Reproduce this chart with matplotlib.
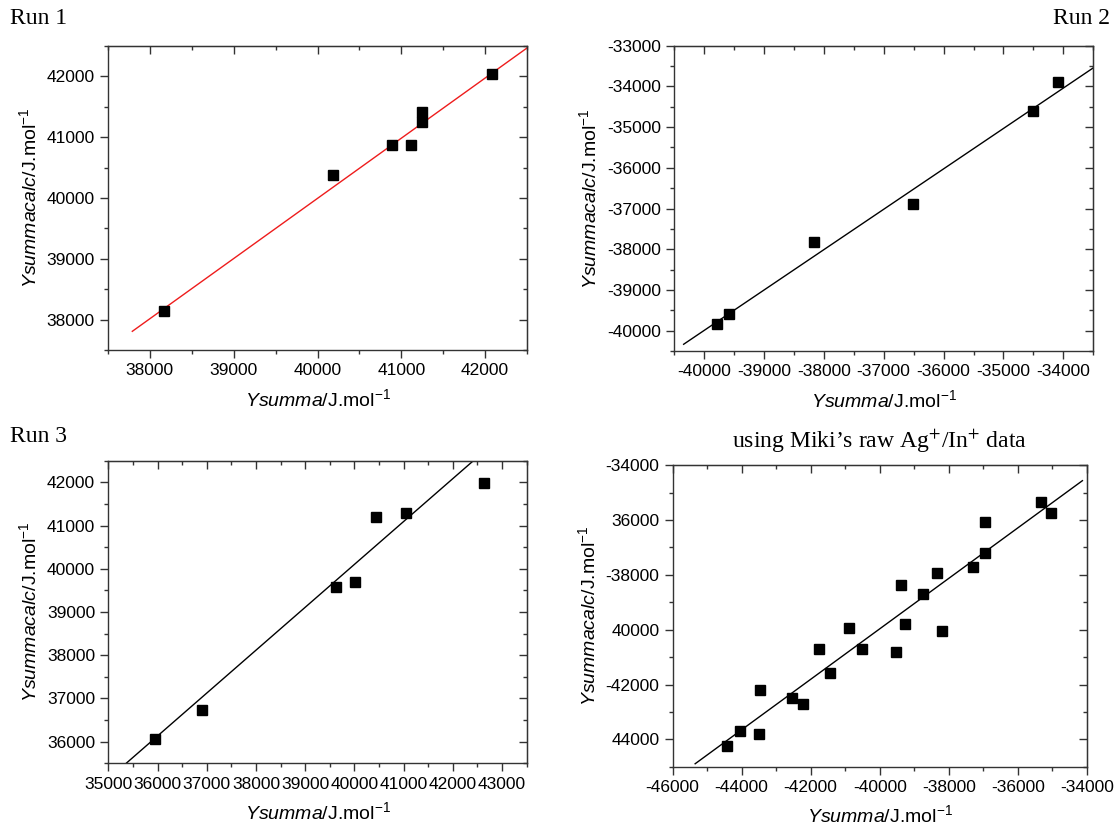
import matplotlib
matplotlib.use("Agg")
import matplotlib.pyplot as plt
from matplotlib.ticker import MultipleLocator, FixedLocator, FixedFormatter

plt.rcParams['font.family'] = ['Liberation Sans', 'DejaVu Sans']
plt.rcParams['axes.unicode_minus'] = False
plt.rcParams['mathtext.fontset'] = 'custom'
plt.rcParams['mathtext.rm'] = 'Liberation Sans'
plt.rcParams['mathtext.it'] = 'Liberation Sans:italic'

# ---------------- data ----------------
run1_x = [38170, 40180, 40890, 41120, 41245, 41245, 42085]
run1_y = [38138, 40371, 40877, 40871, 41422, 41246, 42033]
fit1_x = [37790, 42500]
fit1_y = [37807, 42467]

run2_x = [-39774, -39590, -38163, -36510, -34511, -34083]
run2_y = [-39827, -39580, -37812, -36899, -34612, -33897]
fit2_x = [-40339, -33500]
fit2_y = [-40335, -33543]

run3_x = [35941, 36896, 39631, 40014, 40441, 41042, 42634]
run3_y = [36068, 36725, 39586, 39686, 41205, 41282, 41976]
fit3_x = [35362, 42417]
fit3_y = [35500, 42500]

miki_x = [-44428, -44055, -43486, -43455, -42555, -42214, -41748, -41448,
          -40890, -40507, -39524, -39369, -39276, -38749, -38325, -38200,
          -37300, -36949, -36949, -35314, -35035]
miki_y = [-44244, -43694, -43817, -42203, -42509, -42729, -40711, -41592,
          -39929, -40699, -40809, -38352, -39782, -38707, -37936, -40051,
          -37716, -37203, -36054, -35357, -35724]
fit4_x = [-45348, -34125]
fit4_y = [-44892, -34562]

miki_yticks = [-34000, -36000, -38000, -40000, -42000, -44000]
miki_yticklabels = ["-34000", "36000", "-38000", "40000", "-42000", "44000"]

xlabel = r"$\mathit{Ysumma/}$J.mol$^{-1}$"
ylabel = r"$\mathit{Ysummacalc/}$J.mol$^{-1}$"

fig = plt.figure(figsize=(11.17, 8.27), dpi=100)

def style(ax, xlim, ylim, xmaj, xmin, ymaj, ymin):
    ax.set_xlim(*xlim)
    ax.set_ylim(*ylim)
    ax.xaxis.set_major_locator(MultipleLocator(xmaj))
    ax.xaxis.set_minor_locator(MultipleLocator(xmin))
    ax.yaxis.set_major_locator(MultipleLocator(ymaj))
    ax.yaxis.set_minor_locator(MultipleLocator(ymin))
    for s in ax.spines.values():
        s.set_linewidth(1.0)
        s.set_color('#333333')
    ax.tick_params(which='both', labelsize=12.5, width=1.0, color='#333333',
                   direction='out', top=False, right=False)
    ax.tick_params(which='major', length=5.5, pad=4)
    ax.tick_params(which='minor', length=3)
    ax.set_xlabel(xlabel, fontsize=14, labelpad=7)
    ax.set_ylabel(ylabel, fontsize=14, labelpad=5)

def add_top_right(ax):
    tx = ax.secondary_xaxis('top')
    tx.xaxis.set_major_locator(ax.xaxis.get_major_locator())
    tx.xaxis.set_minor_locator(ax.xaxis.get_minor_locator())
    tx.tick_params(which='both', direction='in', labeltop=False, width=1.0, color='#333333')
    tx.tick_params(which='major', length=5.5)
    tx.tick_params(which='minor', length=3)
    ty = ax.secondary_yaxis('right')
    ty.yaxis.set_major_locator(ax.yaxis.get_major_locator())
    ty.yaxis.set_minor_locator(ax.yaxis.get_minor_locator())
    ty.tick_params(which='both', direction='in', labelright=False, width=1.0, color='#333333')
    ty.tick_params(which='major', length=5.5)
    ty.tick_params(which='minor', length=3)

mk = dict(marker='s', ms=6.5, color='black', linestyle='none')

# Run 1
ax1 = fig.add_axes([0.0967, 0.5768, 0.3751, 0.3676])
ax1.plot(fit1_x, fit1_y, color='#ee1c1c', lw=1.0)
ax1.plot(run1_x, run1_y, **mk)
style(ax1, (37500, 42500), (37500, 42500), 1000, 500, 1000, 500)
add_top_right(ax1)

# Run 2
ax2 = fig.add_axes([0.6034, 0.5756, 0.3754, 0.3691])
ax2.plot(fit2_x, fit2_y, color='black', lw=1.0)
ax2.plot(run2_x, run2_y, **mk)
style(ax2, (-40500, -33500), (-40500, -33000), 1000, 500, 1000, 500)
add_top_right(ax2)

# Run 3
ax3 = fig.add_axes([0.0970, 0.0770, 0.3745, 0.3659])
ax3.plot(fit3_x, fit3_y, color='black', lw=1.0)
ax3.plot(run3_x, run3_y, **mk)
style(ax3, (35000, 43500), (35500, 42500), 1000, 500, 1000, 500)
add_top_right(ax3)

# Miki
ax4 = fig.add_axes([0.6022, 0.0729, 0.3707, 0.3645])
ax4.plot(fit4_x, fit4_y, color='black', lw=1.0)
ax4.plot(miki_x, miki_y, **mk)
style(ax4, (-46000, -34000), (-45000, -34000), 2000, 1000, 2000, 1000)
ax4.yaxis.set_major_locator(FixedLocator(miki_yticks))
ax4.yaxis.set_major_formatter(FixedFormatter(miki_yticklabels))
add_top_right(ax4)

serif = ['Liberation Serif', 'DejaVu Serif']
fig.text(0.009, 0.978, "Run 1", family=serif, fontsize=17, va='center', ha='left')
fig.text(0.994, 0.978, "Run 2", family=serif, fontsize=17, va='center', ha='right')
fig.text(0.009, 0.472, "Run 3", family=serif, fontsize=17, va='center', ha='left')
fig.text(0.7876, 0.4667, r"using Miki’s raw Ag$^{+}$/In$^{+}$ data", family=serif,
         math_fontfamily='stix', fontsize=17, va='center', ha='center')

fig.savefig("out.png", dpi=100)
